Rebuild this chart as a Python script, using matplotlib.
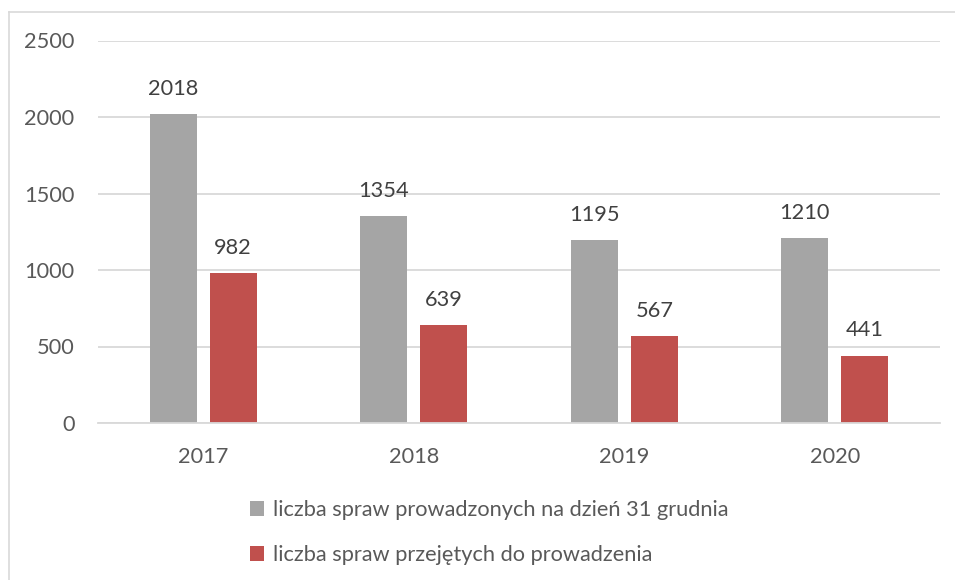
import matplotlib
matplotlib.use("Agg")
import matplotlib.pyplot as plt
import numpy as np
from matplotlib.lines import Line2D

years = ["2017", "2018", "2019", "2020"]
prowadzone = [2018, 1354, 1195, 1210]
przejete = [982, 639, 567, 441]
series_labels = ["liczba spraw prowadzonych na dzień 31 grudnia",
                 "liczba spraw przejętych do prowadzenia"]
yticks = [0, 500, 1000, 1500, 2000, 2500]

plt.rcParams['font.family'] = ['Lato', 'DejaVu Sans']
txt = '#595959'
fs = 15.7

fig = plt.figure(figsize=(9.55, 5.8), dpi=100)
ax = fig.add_axes([98/955, 1 - 423/580, (940-98)/955, (423-40.5)/580])

x = np.arange(len(years))
w = 0.223
off = 0.1425
b1 = ax.bar(x - off, prowadzone, w, color='#A5A5A5', zorder=3, label=series_labels[0])
b2 = ax.bar(x + off, przejete, w, color='#C0504D', zorder=3, label=series_labels[1])

for bars, vals in ((b1, prowadzone), (b2, przejete)):
    for r, v in zip(bars, vals):
        ax.annotate(str(v), (r.get_x() + r.get_width()/2, v), xytext=(0, 13.7),
                    textcoords='offset points', ha='center', va='baseline',
                    fontsize=fs, color='#404040')

ax.set_xlim(-0.5, 3.5)
ax.set_ylim(0, 2500)
ax.set_yticks(yticks)
ax.set_xticks(x)
ax.set_xticklabels(years)
ax.tick_params(axis='y', length=0, pad=17, labelsize=fs, labelcolor=txt)
ax.tick_params(axis='x', length=0, pad=17, labelsize=fs, labelcolor=txt)
ax.grid(axis='y', color='#D9D9D9', linewidth=1.3, zorder=0)
for s in ['top', 'right', 'left']:
    ax.spines[s].set_visible(False)
ax.spines['bottom'].set_color('#D9D9D9')
ax.spines['bottom'].set_linewidth(1.3)
ax.spines['bottom'].set_zorder(4)

leg = fig.legend(handles=[b1, b2], loc='upper left',
                 bbox_to_anchor=(250/955, 1 - 500/580), frameon=False,
                 borderpad=0, borderaxespad=0,
                 fontsize=fs, labelcolor=txt, handlelength=0.65, handleheight=0.65,
                 handletextpad=0.4, labelspacing=1.15)

# outer border (top and left)
fig.add_artist(Line2D([9/955, 1], [1 - 12/580, 1 - 12/580], color='#D9D9D9', lw=1.2))
fig.add_artist(Line2D([9/955, 9/955], [0, 1 - 12/580], color='#D9D9D9', lw=1.2))

fig.savefig('out.png', dpi=100)
